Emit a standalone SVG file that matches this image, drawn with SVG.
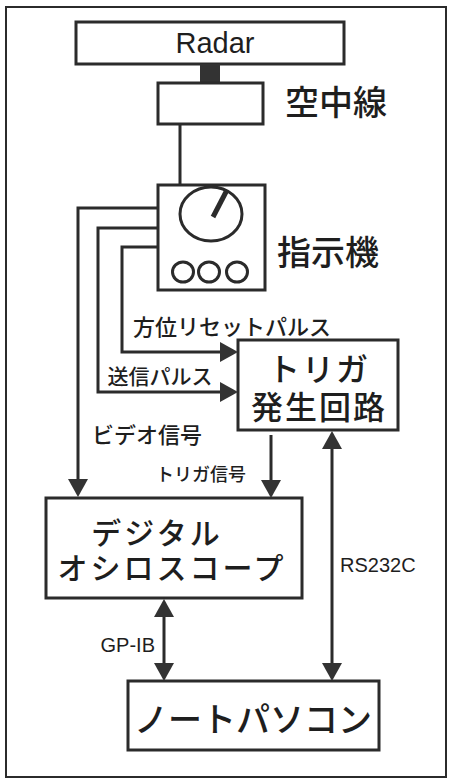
<svg xmlns="http://www.w3.org/2000/svg" width="449" height="780" viewBox="0 0 449 780">
<style>
.box{fill:#fff;stroke:#2b2b2b;stroke-width:3}
.ln{fill:none;stroke:#2b2b2b;stroke-width:3}
.jp{font-family:"Noto Sans CJK JP","Noto Sans",sans-serif;fill:#1e1e1e;text-anchor:middle;dominant-baseline:central;font-weight:500}
.en{font-family:"Liberation Sans",Arial,sans-serif;fill:#1e1e1e;dominant-baseline:central}
</style>
<defs>
<marker id="ah" markerUnits="userSpaceOnUse" markerWidth="20" markerHeight="20" refX="4" refY="10" orient="auto-start-reverse">
<path d="M0,0 L18,10 L0,20 z" fill="#333"/>
</marker>
</defs>
<rect x="0" y="0" width="449" height="780" fill="#fff"/>
<rect x="6" y="7" width="440" height="770" fill="none" stroke="#2b2b2b" stroke-width="2"/>

<g id="radar">
<rect class="box" x="76" y="22" width="268" height="42"/>
<text class="en" x="215" y="43" font-size="29" text-anchor="middle">Radar</text>
</g>
<g id="antenna">
<rect x="200" y="64" width="20" height="19" fill="#333"/>
<rect class="box" x="158" y="83" width="105" height="41"/>
<text class="jp" x="336" y="100" font-size="34">空中線</text>
</g>
<g id="indicator">
<rect class="box" x="158" y="185" width="107" height="105"/>
<ellipse cx="211" cy="214" rx="31" ry="27" fill="none" stroke="#2b2b2b" stroke-width="3"/>
<line x1="213" y1="217" x2="227" y2="190" stroke="#2b2b2b" stroke-width="5"/>
<ellipse cx="183" cy="272" rx="10.5" ry="10" fill="none" stroke="#2b2b2b" stroke-width="3"/>
<ellipse cx="209" cy="272" rx="10.5" ry="10" fill="none" stroke="#2b2b2b" stroke-width="3"/>
<ellipse cx="237" cy="272" rx="10.5" ry="10" fill="none" stroke="#2b2b2b" stroke-width="3"/>
<text class="jp" x="328" y="250" font-size="34">指示機</text>
</g>
<g id="trigger">
<rect class="box" x="238" y="340" width="160" height="90"/>
<text class="jp" font-size="32"><tspan x="319" y="367" letter-spacing="2">トリガ</tspan><tspan x="319" y="405" letter-spacing="2">発生回路</tspan></text>
</g>
<g id="oscilloscope">
<rect class="box" x="46" y="498" width="256" height="100"/>
<text class="jp" font-size="30" letter-spacing="3"><tspan x="157" y="531">デジタル</tspan><tspan x="172" y="566">オシロスコープ</tspan></text>
</g>
<g id="notepc">
<rect class="box" x="128" y="681" width="251" height="69"/>
<text class="jp" x="253" y="717" font-size="34">ノートパソコン</text>
</g>

<g id="connectors">
<line class="ln" x1="180" y1="124" x2="180" y2="185"/>
<path class="ln" d="M158,208 H78 V483" marker-end="url(#ah)"/>
<path class="ln" d="M158,228 H98 V392 H224" marker-end="url(#ah)"/>
<path class="ln" d="M158,247 H122 V352 H224" marker-end="url(#ah)"/>
<path class="ln" d="M271,435 V484" marker-end="url(#ah)"/>
<path class="ln" d="M332,445 V667" marker-start="url(#ah)" marker-end="url(#ah)"/>
<path class="ln" d="M164,613 V667" marker-start="url(#ah)" marker-end="url(#ah)"/>
<text class="jp" x="232" y="325" font-size="22">方位リセットパルス</text>
<text class="jp" x="160" y="375" font-size="21">送信パルス</text>
<text class="jp" x="147" y="433" font-size="22">ビデオ信号</text>
<text class="jp" x="201" y="473" font-size="18">トリガ信号</text>
<text class="en" x="340" y="565" font-size="20">RS232C</text>
<text class="en" x="155" y="645" font-size="20" text-anchor="end">GP-IB</text>
</g>
</svg>
